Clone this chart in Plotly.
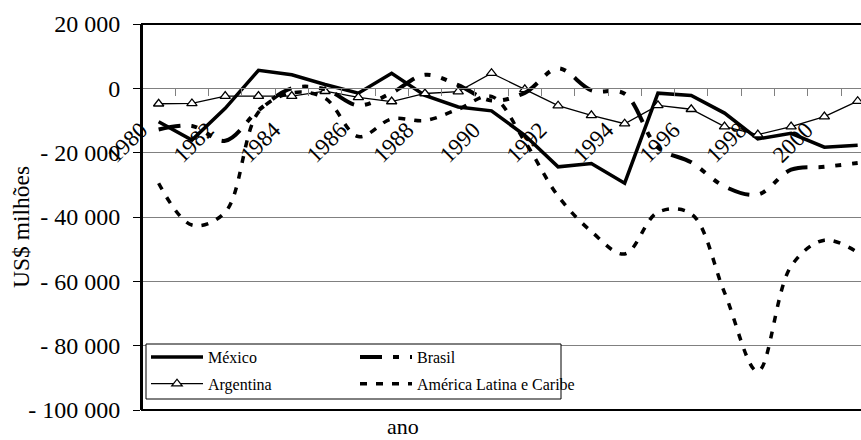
import plotly.graph_objects as go

years = list(range(1980, 2002))
mexico = [-10400, -16100, -6200, 5600, 4200, 1200, -1500, 4700, -2200, -5800, -7000, -14600,
          -24400, -23400, -29500, -1500, -2200, -7700, -15700, -14000, -18300, -17700]
brasil = [-12800, -11700, -16300, -6800, 0, -300, -5300, -1400, 4200, 1000, -3800, -1400,
          6200, -600, -1700, -18400, -23000, -30500, -33000, -25300, -24400, -23200]
argentina = [-4800, -4700, -2400, -2400, -2400, -900, -2800, -4100, -1600, -1000, 4700, -300,
             -5400, -8400, -11000, -5300, -6500, -11900, -14400, -11900, -8800, -4000]
alc = [-29500, -42500, -38500, -7400, -1400, -3100, -15000, -9500, -10000, -6500, -2500, -16500,
       -33500, -44500, -51500, -38500, -39000, -63500, -88000, -55300, -47200, -51000]

y_ticks = [20000, 0, -20000, -40000, -60000, -80000, -100000]
y_ticktext = ["20 000", "0", "- 20 000", "- 40 000", "- 60 000", "- 80 000", "- 100 000"]
x_label_years = list(range(1980, 2001, 2))
x_label_text = [str(y) for y in x_label_years]

FONT = "Liberation Serif"

fig = go.Figure()
fig.add_trace(go.Scatter(x=years, y=mexico, name="México", mode="lines",
                         line=dict(color="black", width=3.5), legend="legend", legendgroup="a"))
fig.add_trace(go.Scatter(x=years, y=argentina, name="Argentina", mode="lines+markers",
                         line=dict(color="black", width=1.3),
                         marker=dict(symbol="triangle-up", size=9, color="white",
                                     line=dict(color="black", width=1.3)),
                         legend="legend", legendgroup="b", cliponaxis=False))
fig.add_trace(go.Scatter(x=years, y=brasil, name="Brasil", mode="lines",
                         line=dict(color="black", width=4, shape="spline", smoothing=1,
                                   dash="22px,11px,6px,11px,6px,11px"),
                         legend="legend2", legendgroup="c"))
fig.add_trace(go.Scatter(x=years, y=alc, name="América Latina e Caribe", mode="lines",
                         line=dict(color="black", width=3.5, shape="spline", smoothing=1,
                                   dash="7px,9px"),
                         legend="legend2", legendgroup="d"))

W, H = 861, 440
ML, MR, MT, MB = 142, 0, 24, 30

fig.update_layout(
    width=W, height=H,
    margin=dict(l=ML, r=MR, t=MT, b=MB, autoexpand=False),
    paper_bgcolor="white", plot_bgcolor="white",
    xaxis=dict(
        range=[1979.5, 2001.1], anchor="free", position=100000 / 120000,
        showgrid=False, zeroline=False, automargin=False,
        showline=True, linecolor="#808080", linewidth=1,
        tickmode="array", tickvals=x_label_years, ticktext=x_label_text,
        ticks="outside", ticklen=0, tickangle=-45,
        tickfont=dict(family=FONT, size=23, color="black"),
        ticklabelstandoff=18, ticklabelshift=-18,
        minor=dict(tick0=1979.5, dtick=1, ticks="outside", ticklen=7,
                   tickcolor="#808080", tickwidth=1, showgrid=False),
    ),
    yaxis=dict(
        range=[-100000, 20000], automargin=False,
        tickmode="array", tickvals=y_ticks, ticktext=y_ticktext,
        showgrid=True, gridcolor="#808080", gridwidth=1, zeroline=False,
        showline=True, linecolor="black", linewidth=2,
        ticks="outside", ticklen=7, tickcolor="black", tickwidth=1,
        tickfont=dict(family=FONT, size=24, color="black"),
        ticklabelstandoff=8,
    ),
    legend=dict(xref="container", yref="container", x=146 / W, y=1 - 340 / H,
                xanchor="left", yanchor="top", orientation="v",
                itemwidth=52, tracegroupgap=3, bgcolor="rgba(0,0,0,0)",
                font=dict(family=FONT, size=16, color="black")),
    legend2=dict(xref="container", yref="container", x=355 / W, y=1 - 340 / H,
                 xanchor="left", yanchor="top", orientation="v",
                 itemwidth=52, tracegroupgap=3, bgcolor="rgba(0,0,0,0)",
                 font=dict(family=FONT, size=16, color="black")),
    showlegend=True,
)

ph = H - MT - MB
pw = W - ML - MR
def px_x(v):
    return (v - ML) / pw
def px_y(v):
    return (H - MB - v) / ph

# plot-area frame
fig.add_shape(type="rect", xref="paper", yref="paper", x0=0, x1=1.01, y0=0, y1=1,
              line=dict(color="black", width=2), layer="above")
# legend box
fig.add_shape(type="rect", xref="paper", yref="paper",
              x0=px_x(146), x1=px_x(561), y0=px_y(399), y1=px_y(344),
              line=dict(color="black", width=1), fillcolor="white", layer="above")

fig.add_annotation(text="ano", xref="paper", yref="paper", x=px_x(403), y=px_y(441),
                   showarrow=False, xanchor="center", yanchor="bottom",
                   font=dict(family=FONT, size=22, color="black"))
fig.add_annotation(text="US$ milhões", xref="paper", yref="paper", x=px_x(21), y=px_y(227),
                   showarrow=False, xanchor="center", yanchor="middle", textangle=-90,
                   font=dict(family=FONT, size=23.5, color="black"))

fig.write_html("out.html")
